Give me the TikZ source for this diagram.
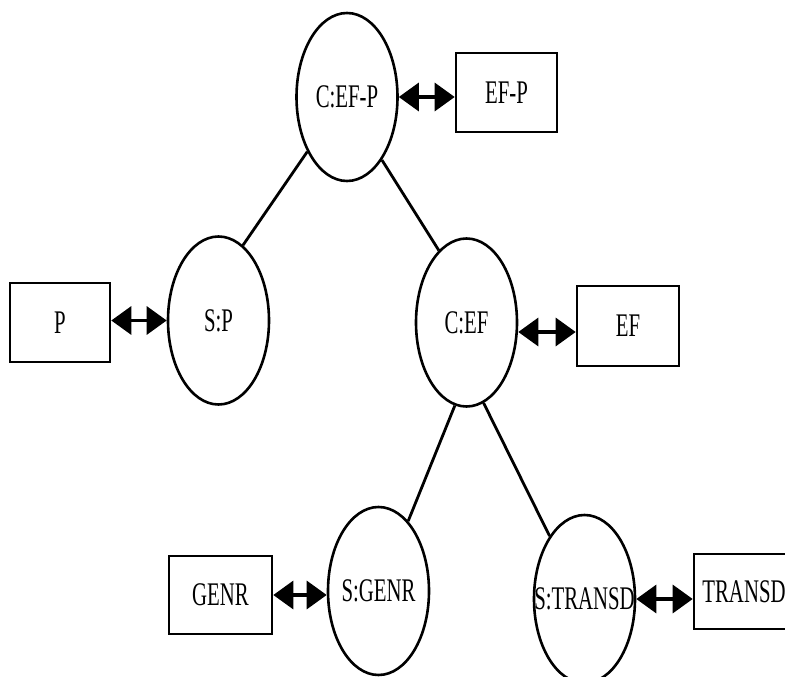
\documentclass[tikz,border=0pt]{standalone}
\usepackage{fontspec}
\setmainfont[FakeStretch=0.63]{Liberation Serif}
\usetikzlibrary{shapes.geometric,arrows.meta}

% label centred in a node without widening its shape
\newcommand{\tag}[1]{\makebox[0pt]{#1}}

\begin{document}
\begin{tikzpicture}[x=1pt,y=-1pt,
  every node/.style={font=\fontsize{33}{33}\selectfont, inner sep=0pt},
  stage/.style={ellipse, draw, line width=2.6pt, minimum width=101pt, minimum height=168pt},
  store/.style={rectangle, draw, line width=2.6pt},
  link/.style={line width=2.8pt},
  dualarrow/.style={line width=3.2pt,
    {Triangle[length=20pt,width=28pt]}-{Triangle[length=20pt,width=28pt]}}]
\useasboundingbox (0,0) rectangle (785,677);

% composition tree
\node[stage] (cefp) at (347,97) {\tag{C:EF-P}};
\node[stage] (sp) at (218.5,320.5) {\tag{S:P}};
\node[stage] (cef) at (466.5,322.5) {\tag{C:EF}};
\node[stage] (sgenr) at (378.5,591) {\tag{S:GENR}};
\node[stage] (stransd) at (584.5,599) {\tag{S:TRANSD}};

% attached models
\node[store, minimum width=101pt, minimum height=79pt] (efp) at (506.5,92.5) {EF-P};
\node[store, minimum width=100pt, minimum height=79pt] (p) at (60,322.5) {P};
\node[store, minimum width=102pt, minimum height=80pt] (ef) at (628,326) {EF};
\node[store, minimum width=103pt, minimum height=78pt] (genr) at (220.5,595) {GENR};
\node[store, minimum width=100pt, minimum height=75pt] (transd) at (744,591.5) {TRANSD};

% tree edges
\draw[link] (cefp.234.7) -- (sp.72.5);
\draw[link] (cefp.299) -- (cef.111);
\draw[link] (cef.262) -- (sgenr.67);
\draw[link] (cef.282) -- (stransd.119);

% two-way links between entities and models
\draw[dualarrow] (cefp.east) -- (cefp.east -| efp.west);
\draw[dualarrow] (sp.west) -- (sp.west -| p.east);
\draw[dualarrow] ([yshift=-6pt]ef.west) -- ([yshift=-6pt]ef.west -| cef.east);
\draw[dualarrow] (genr.east) -- (genr.east -| sgenr.west);
\draw[dualarrow] (stransd.east) -- (stransd.east -| transd.west);
\end{tikzpicture}
\end{document}
